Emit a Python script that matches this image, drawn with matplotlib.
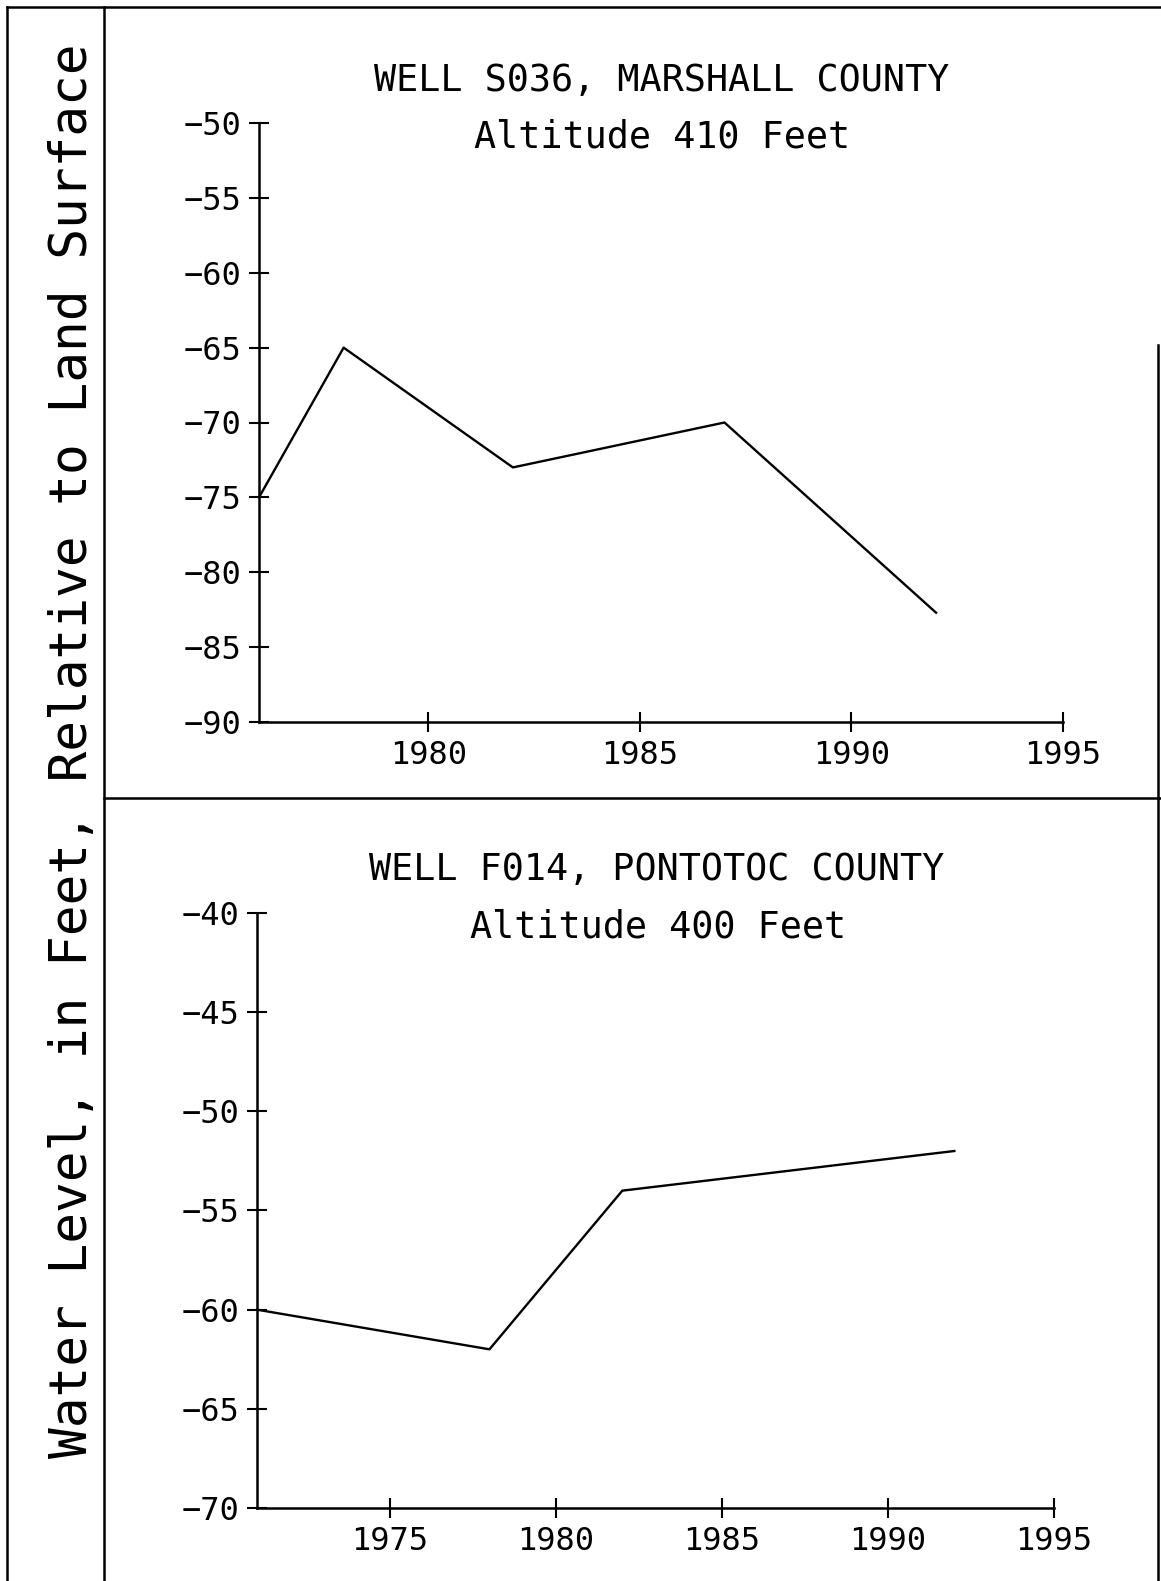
from matplotlib import pyplot as plt
from matplotlib.lines import Line2D

# well S036, Marshall County
year_s036 = [1976, 1978, 1982, 1987, 1992]
level_s036 = [-75, -65, -73, -70, -82.7]
title_s036 = 'WELL S036, MARSHALL COUNTY'
alt_s036 = 'Altitude 410 Feet'
yticks_s036 = [-90, -85, -80, -75, -70, -65, -60, -55, -50]
xticks_s036 = [1980, 1985, 1990, 1995]

# well F014, Pontotoc County
year_f014 = [1971, 1978, 1982, 1992]
level_f014 = [-60, -62, -54, -52]
title_f014 = 'WELL F014, PONTOTOC COUNTY'
alt_f014 = 'Altitude 400 Feet'
yticks_f014 = [-70, -65, -60, -55, -50, -45, -40]
xticks_f014 = [1975, 1980, 1985, 1990, 1995]

ylabel = 'Water Level, in Feet, Relative to Land Surface'

plt.rcParams['font.family'] = ['DejaVu Sans Mono', 'DejaVu Sans']

W, H = 1161, 1581
fig = plt.figure(figsize=(W / 100, H / 100), dpi=100)


def fx(px):
    return px / W


def fy(py):
    return 1 - py / H


def setup(ax, xticks, yticks, xlim):
    ax.spines['top'].set_visible(False)
    ax.spines['right'].set_visible(False)
    ax.spines['left'].set_linewidth(1.8)
    ax.spines['bottom'].set_linewidth(1.8)
    ax.set_xlim(xlim)
    ax.set_ylim(yticks[0], yticks[-1])
    ax.set_xticks(xticks)
    ax.set_yticks(yticks)
    ax.tick_params(axis='both', direction='inout', length=14, width=1.5,
                   labelsize=23)
    ax.tick_params(axis='y', pad=6)
    ax.tick_params(axis='x', pad=6)


# top panel
ax1 = fig.add_axes([fx(259), fy(722), fx(1063 - 259), (722 - 123) / H])
ax1.plot(year_s036, level_s036, color='black', lw=1.7, clip_on=False)
setup(ax1, xticks_s036, yticks_s036, (1976, 1995))

# bottom panel
ax2 = fig.add_axes([fx(257), fy(1508), fx(1054 - 257), (1508 - 913) / H])
ax2.plot(year_f014, level_f014, color='black', lw=1.7, clip_on=False)
setup(ax2, xticks_f014, yticks_f014, (1971, 1995))

# titles
fig.text(fx(662), fy(91), title_s036, ha='center', va='baseline', fontsize=26.5)
fig.text(fx(662), fy(148), alt_s036, ha='center', va='baseline', fontsize=26.5)
fig.text(fx(657), fy(880), title_f014, ha='center', va='baseline', fontsize=26.5)
fig.text(fx(658), fy(938), alt_f014, ha='center', va='baseline', fontsize=26.5)

# shared y label
fig.text(fx(87), fy(751), ylabel, rotation=90, rotation_mode='anchor',
         ha='center', va='baseline', fontsize=36.8)

# frame lines
frame = [
    ([7, W], [7, 7]),
    ([7, 7], [7, H]),
    ([104, 104], [7, H]),
    ([104, W], [798, 798]),
    ([1158, 1158], [345, H]),
]
for xs, ys in frame:
    fig.add_artist(Line2D([fx(x) for x in xs], [fy(y) for y in ys],
                          color='black', lw=1.8))

fig.savefig('out.png', dpi=100)
